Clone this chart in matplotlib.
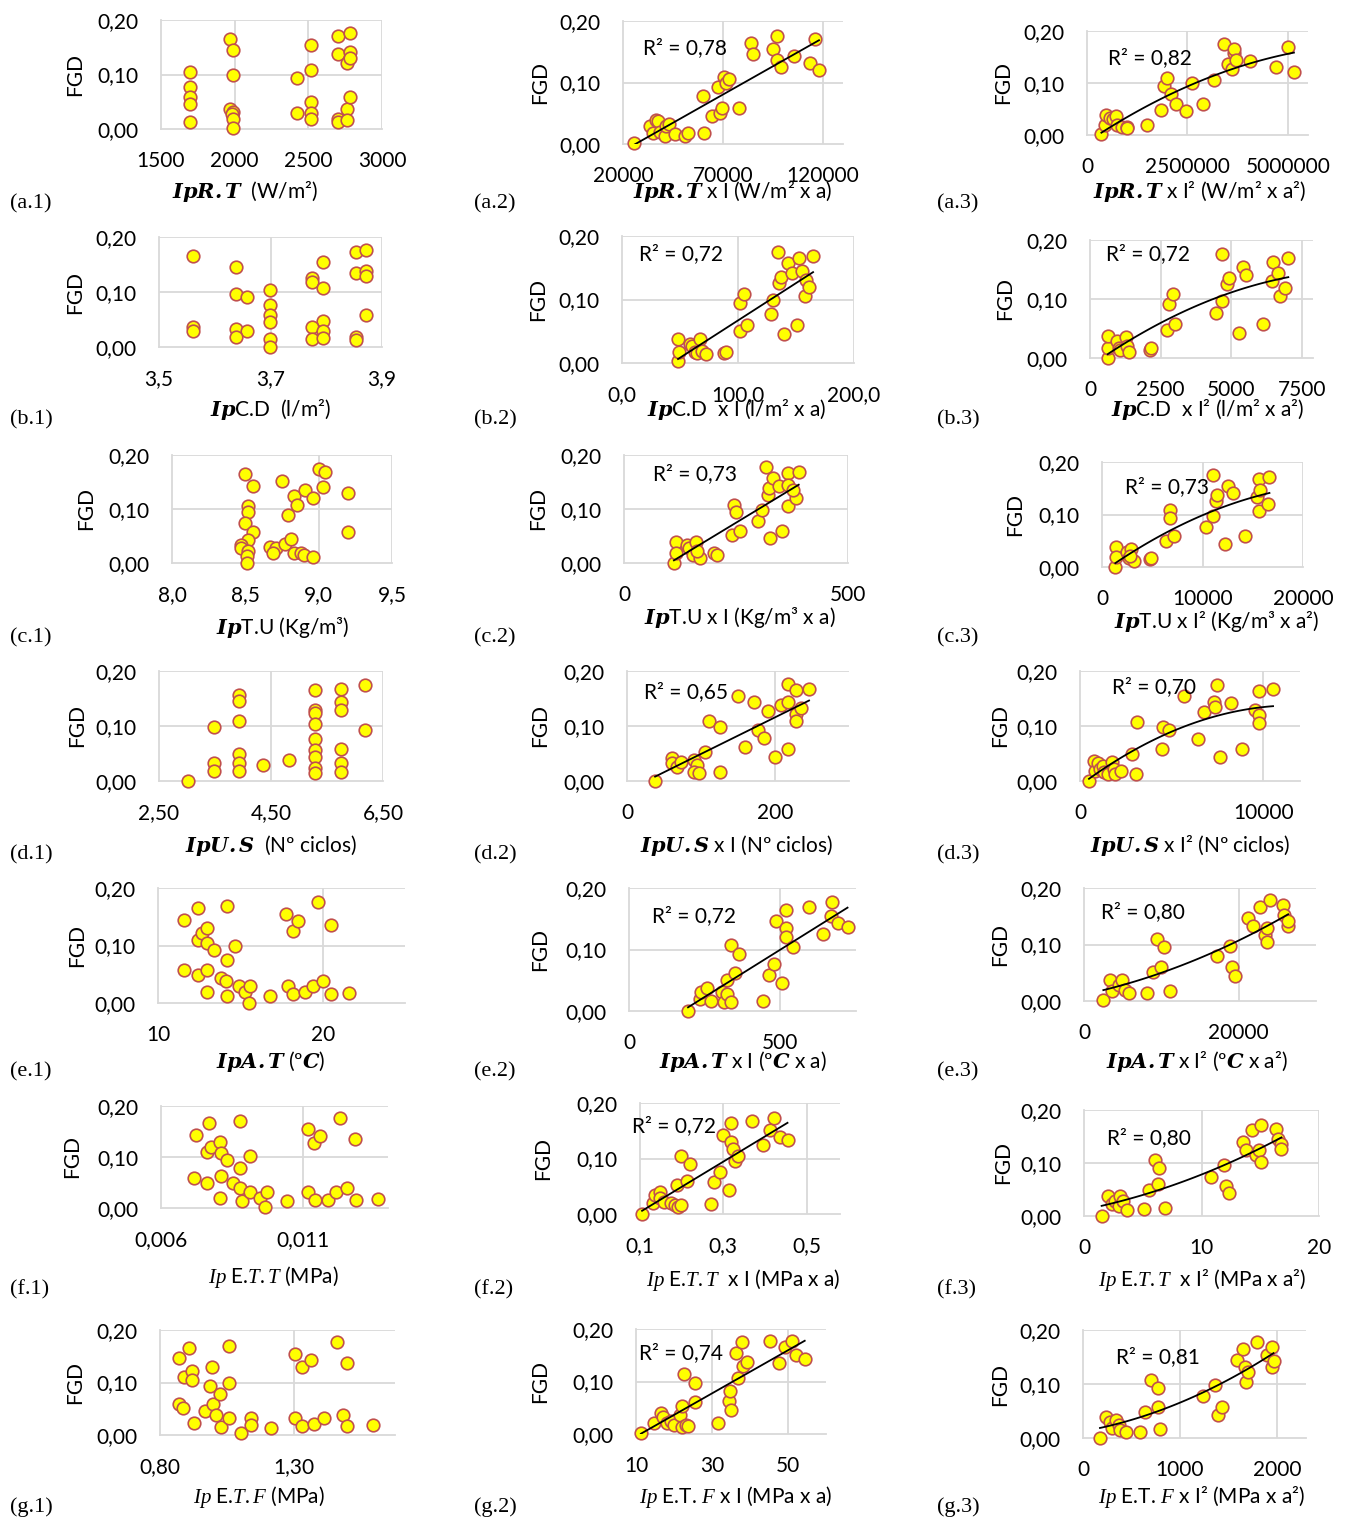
import matplotlib
matplotlib.use('Agg')
import matplotlib.pyplot as plt
import numpy as np

plt.rcParams['font.family'] = ['Lato', 'DejaVu Sans']
plt.rcParams['mathtext.fontset'] = 'custom'
plt.rcParams['mathtext.rm'] = 'Lato'
plt.rcParams['mathtext.it'] = 'Liberation Serif:italic'
plt.rcParams['mathtext.bf'] = 'DejaVu Serif:bold'
plt.rcParams['mathtext.bfit'] = 'DejaVu Serif:italic:bold'

# ---- data (x, FGD) ----
x_a1 = [1700, 1700, 1700, 1700, 1700, 1965, 1990, 1990, 1965, 1990, 1980, 1990, 1990, 2420, 2420, 2520, 2520, 2520,
        2520, 2520, 2700, 2700, 2700, 2700, 2760, 2760, 2760, 2785, 2785, 2785, 2785]
y_a1 = [0.105, 0.077, 0.059, 0.045, 0.013, 0.166, 0.145, 0.099, 0.037, 0.031, 0.028, 0.018, 0.001, 0.093, 0.029, 0.155,
        0.109, 0.049, 0.030, 0.018, 0.171, 0.137, 0.018, 0.012, 0.121, 0.037, 0.017, 0.177, 0.142, 0.130, 0.059]

x_a2 = [25300, 33300, 35000, 36300, 37500, 38300, 40800, 41700, 43000, 45800, 51200, 52500, 59800, 60500, 64500, 67500,
        68300, 69700, 70300, 71700, 73000, 78000, 84200, 85000, 95000, 97000, 97000, 99000, 105500, 113300, 115800, 118000]
y_a2 = [0.002, 0.029, 0.018, 0.039, 0.038, 0.020, 0.013, 0.029, 0.032, 0.017, 0.013, 0.018, 0.078, 0.018, 0.046, 0.093,
        0.051, 0.059, 0.109, 0.099, 0.105, 0.059, 0.165, 0.146, 0.155, 0.176, 0.136, 0.126, 0.143, 0.131, 0.170, 0.120]

x_a3 = [358e3, 458e3, 483e3, 567e3, 650e3, 733e3, 750e3, 875e3, 1000e3, 1000e3, 1483e3, 1850e3, 1917e3, 2000e3, 2100e3,
        2208e3, 2475e3, 2608e3, 2883e3, 3167e3, 3400e3, 3517e3, 3608e3, 3650e3, 3667e3, 3708e3, 4050e3, 4708e3, 5000e3,
        5150e3]
y_a3 = [0.001, 0.019, 0.038, 0.032, 0.030, 0.036, 0.019, 0.015, 0.016, 0.013, 0.019, 0.049, 0.094, 0.110, 0.078, 0.059,
        0.046, 0.100, 0.059, 0.105, 0.175, 0.137, 0.126, 0.157, 0.165, 0.145, 0.142, 0.131, 0.169, 0.121]

x_b1 = [3.561, 3.561, 3.561, 3.639, 3.639, 3.658, 3.639, 3.658, 3.639, 3.699, 3.699, 3.699, 3.699, 3.699, 3.699, 3.775,
        3.775, 3.795, 3.795, 3.795, 3.775, 3.795, 3.775, 3.795, 3.853, 3.853, 3.853, 3.853, 3.872, 3.872, 3.872, 3.872]
y_b1 = [0.165, 0.036, 0.030, 0.145, 0.097, 0.091, 0.032, 0.029, 0.018, 0.104, 0.077, 0.059, 0.045, 0.015, 0.000, 0.126,
        0.118, 0.154, 0.108, 0.048, 0.036, 0.030, 0.015, 0.017, 0.173, 0.135, 0.018, 0.012, 0.176, 0.139, 0.129, 0.058]

x_b2 = [48.3, 48.9, 48.3, 58.3, 60.3, 62.6, 64.7, 67.0, 69.3, 72.7, 87.9, 89.9, 102, 102, 105, 107.8, 128.7, 130, 134.5,
        135.3, 137.4, 139.7, 143, 146.6, 150.9, 152.3, 155.2, 158.9, 157.5, 161.2, 164.7]
y_b2 = [0.003, 0.018, 0.038, 0.030, 0.027, 0.018, 0.016, 0.038, 0.019, 0.014, 0.016, 0.018, 0.050, 0.094, 0.109, 0.060,
        0.077, 0.099, 0.175, 0.126, 0.135, 0.046, 0.157, 0.141, 0.060, 0.165, 0.145, 0.131, 0.106, 0.120, 0.169]

x_b3 = [626, 650, 650, 968, 1039, 1063, 1263, 1322, 1393, 2125, 2160, 2716, 2810, 2952, 3011, 4463, 4664, 4675, 4840,
        4935, 5289, 5407, 5525, 6139, 6434, 6494, 6671, 6730, 6907, 7025]
y_b3 = [0.000, 0.017, 0.037, 0.028, 0.017, 0.013, 0.035, 0.020, 0.011, 0.013, 0.017, 0.048, 0.092, 0.109, 0.058, 0.076,
        0.097, 0.176, 0.125, 0.135, 0.043, 0.154, 0.141, 0.057, 0.130, 0.163, 0.144, 0.105, 0.118, 0.169]

x_c1 = [8.50, 8.55, 8.52, 8.52, 8.50, 8.55, 8.52, 8.47, 8.47, 8.52, 8.51, 8.51, 8.75, 8.79, 8.83, 8.85, 8.91, 8.96, 9.00,
        9.04, 9.03, 9.20, 9.20, 8.67, 8.71, 8.69, 8.77, 8.81, 8.83, 8.88, 8.90, 8.96]
y_c1 = [0.165, 0.142, 0.105, 0.095, 0.075, 0.058, 0.042, 0.033, 0.027, 0.022, 0.013, 0.000, 0.151, 0.089, 0.125, 0.108,
        0.135, 0.120, 0.175, 0.169, 0.140, 0.129, 0.058, 0.030, 0.027, 0.018, 0.035, 0.045, 0.018, 0.018, 0.015, 0.012]

x_c2 = [111.5, 115, 115, 140, 144, 154, 160, 169, 163, 202, 208, 240, 246, 250, 260, 298, 308, 317, 321, 323, 327, 333,
        346, 352, 365, 365, 365, 385, 390, 377]
y_c2 = [0.0, 0.039, 0.018, 0.034, 0.028, 0.015, 0.039, 0.010, 0.022, 0.018, 0.015, 0.052, 0.108, 0.095, 0.059, 0.077,
        0.098, 0.178, 0.126, 0.138, 0.046, 0.157, 0.142, 0.059, 0.166, 0.145, 0.105, 0.120, 0.169, 0.135]

x_c3 = [1325, 1425, 1425, 2480, 2880, 2650, 3150, 2810, 4800, 4900, 6390, 6790, 6790, 7190, 10330, 11000, 11000, 11360,
        11420, 12190, 12580, 13010, 14240, 15400, 15630, 15730, 15660, 16560, 16660]
y_c3 = [0.0, 0.038, 0.019, 0.029, 0.035, 0.017, 0.011, 0.021, 0.015, 0.018, 0.049, 0.109, 0.094, 0.059, 0.076, 0.098,
        0.176, 0.126, 0.137, 0.044, 0.155, 0.141, 0.059, 0.133, 0.167, 0.147, 0.106, 0.120, 0.171]

x_d1 = [3.02, 3.48, 3.48, 3.48, 3.93, 3.93, 3.93, 3.93, 3.93, 3.93, 4.36, 4.82, 5.28, 5.28, 5.28, 5.28, 5.28, 5.28, 5.28,
        5.28, 5.28, 5.75, 5.75, 5.75, 5.75, 5.75, 5.75, 6.18, 6.18]
y_d1 = [0.0, 0.098, 0.033, 0.019, 0.156, 0.145, 0.109, 0.050, 0.032, 0.019, 0.029, 0.038, 0.165, 0.129, 0.123, 0.104,
        0.077, 0.057, 0.043, 0.023, 0.014, 0.168, 0.144, 0.130, 0.059, 0.032, 0.017, 0.175, 0.092]

x_d2 = [38, 61, 61, 68, 73, 91, 95, 91, 97, 106, 111, 126, 126, 150, 159, 171, 177, 185, 191, 200, 208, 217, 217, 217,
        228, 228, 228, 235, 246]
y_d2 = [0.0, 0.041, 0.032, 0.026, 0.035, 0.038, 0.029, 0.017, 0.014, 0.053, 0.109, 0.098, 0.016, 0.154, 0.062, 0.144,
        0.093, 0.078, 0.127, 0.044, 0.139, 0.177, 0.144, 0.059, 0.166, 0.121, 0.109, 0.132, 0.168]

x_d3 = [490, 765, 820, 985, 1110, 1240, 1310, 1550, 1750, 1840, 1890, 2240, 2840, 3100, 3060, 4460, 4520, 4830, 5680,
        6410, 6780, 7290, 7380, 7470, 7610, 8230, 8830, 9520, 9740, 9740, 9740, 10530]
y_d3 = [0.0, 0.036, 0.018, 0.032, 0.022, 0.028, 0.016, 0.013, 0.034, 0.022, 0.012, 0.018, 0.049, 0.108, 0.013, 0.059,
        0.098, 0.092, 0.154, 0.077, 0.126, 0.144, 0.135, 0.175, 0.044, 0.141, 0.059, 0.130, 0.120, 0.105, 0.164, 0.168]

x_e1 = [11.6, 12.4, 12.4, 12.7, 13.0, 13.0, 13.4, 14.2, 14.2, 14.7, 11.6, 12.4, 13.0, 13.0, 13.8, 14.1, 14.2, 14.9, 15.3,
        15.5, 15.6, 16.8, 17.8, 18.2, 18.5, 17.9, 18.2, 18.9, 19.4, 19.7, 20.0, 20.5, 20.5, 21.6]
y_e1 = [0.145, 0.165, 0.110, 0.122, 0.130, 0.104, 0.093, 0.169, 0.075, 0.099, 0.058, 0.049, 0.058, 0.020, 0.043, 0.038,
        0.013, 0.029, 0.019, 0.0, 0.029, 0.012, 0.155, 0.126, 0.142, 0.029, 0.016, 0.019, 0.029, 0.175, 0.038, 0.136,
        0.015, 0.017]

x_e2 = [195, 235, 238, 258, 272, 308, 315, 324, 324, 338, 338, 351, 364, 444, 464, 480, 487, 506, 520, 520, 520, 543,
        596, 642, 666, 672, 692, 722]
y_e2 = [0.0, 0.020, 0.031, 0.038, 0.017, 0.031, 0.015, 0.050, 0.028, 0.015, 0.108, 0.061, 0.092, 0.017, 0.058, 0.077,
        0.146, 0.045, 0.135, 0.121, 0.165, 0.104, 0.169, 0.126, 0.155, 0.178, 0.143, 0.136]

x_e3 = [2500, 3400, 3600, 4500, 4900, 5300, 5800, 8100, 8900, 9500, 10300, 10000, 11100, 17200, 18900, 19200, 19500,
        21200, 21900, 22700, 23400, 23600, 23600, 24000, 25700, 25800, 26400, 26400]
y_e3 = [0.002, 0.037, 0.017, 0.028, 0.037, 0.020, 0.014, 0.014, 0.051, 0.110, 0.095, 0.061, 0.018, 0.079, 0.098, 0.061,
        0.045, 0.147, 0.132, 0.167, 0.117, 0.105, 0.129, 0.179, 0.170, 0.153, 0.132, 0.142]

x_f1 = [0.00716, 0.00725, 0.00762, 0.00762, 0.00768, 0.00776, 0.00807, 0.00807, 0.00810, 0.00810, 0.00831, 0.00853,
        0.00877, 0.00877, 0.00877, 0.00884, 0.00913, 0.00913, 0.00949, 0.00968, 0.00973, 0.01044, 0.01117, 0.01117,
        0.01138, 0.01142, 0.01162, 0.01187, 0.01217, 0.01232, 0.01256, 0.01283, 0.01287, 0.01363]
y_f1 = [0.058, 0.144, 0.049, 0.110, 0.166, 0.120, 0.130, 0.019, 0.107, 0.062, 0.094, 0.049, 0.170, 0.078, 0.039, 0.014,
        0.101, 0.031, 0.019, 0.001, 0.031, 0.013, 0.155, 0.032, 0.127, 0.016, 0.142, 0.016, 0.031, 0.177, 0.040, 0.136,
        0.016, 0.018]

x_f2 = [0.105, 0.132, 0.137, 0.147, 0.147, 0.158, 0.175, 0.184, 0.188, 0.192, 0.199, 0.199, 0.213, 0.220, 0.271, 0.278,
        0.293, 0.298, 0.313, 0.319, 0.319, 0.324, 0.328, 0.334, 0.369, 0.396, 0.413, 0.421, 0.437, 0.454]
y_f2 = [0.0, 0.020, 0.035, 0.040, 0.029, 0.022, 0.020, 0.016, 0.053, 0.012, 0.105, 0.017, 0.060, 0.090, 0.018, 0.058,
        0.076, 0.143, 0.044, 0.164, 0.130, 0.118, 0.096, 0.105, 0.167, 0.124, 0.152, 0.173, 0.139, 0.134]

x_f3 = [1.5, 2.0, 2.4, 2.6, 3.0, 3.1, 3.3, 3.7, 5.1, 5.5, 6.0, 6.4, 6.3, 6.9, 10.8, 11.9, 12.1, 12.3, 13.5, 13.8, 14.3,
        14.6, 14.9, 15.1, 15.1, 16.3, 16.5, 16.8, 16.8]
y_f3 = [0.0, 0.038, 0.022, 0.028, 0.019, 0.037, 0.028, 0.011, 0.013, 0.049, 0.106, 0.091, 0.060, 0.016, 0.074, 0.096,
        0.057, 0.043, 0.140, 0.125, 0.162, 0.116, 0.125, 0.102, 0.172, 0.165, 0.146, 0.135, 0.127]

x_g1 = [0.871, 0.871, 0.887, 0.890, 0.907, 0.918, 0.918, 0.929, 0.967, 0.993, 0.987, 1.000, 1.010, 1.026, 1.029, 1.058,
        1.058, 1.058, 1.105, 1.139, 1.139, 1.214, 1.304, 1.304, 1.333, 1.333, 1.364, 1.375, 1.413, 1.461, 1.487, 1.500,
        1.500, 1.597]
y_g1 = [0.146, 0.060, 0.051, 0.111, 0.166, 0.121, 0.105, 0.022, 0.046, 0.130, 0.094, 0.060, 0.038, 0.078, 0.016, 0.170,
        0.100, 0.032, 0.003, 0.032, 0.020, 0.013, 0.154, 0.033, 0.129, 0.018, 0.143, 0.021, 0.032, 0.178, 0.039, 0.138,
        0.018, 0.019]

x_g2 = [11.3, 14.7, 16.5, 17.0, 18.1, 19.2, 20.0, 21.6, 22.0, 22.2, 22.6, 23.1, 23.8, 25.6, 25.6, 31.7, 34.5, 34.7,
        35.1, 36.3, 36.9, 37.8, 38.1, 39.2, 45.3, 47.6, 49.2, 51.0, 52.1, 54.4]
y_g2 = [0.002, 0.021, 0.040, 0.032, 0.021, 0.025, 0.018, 0.037, 0.054, 0.014, 0.114, 0.018, 0.016, 0.061, 0.098, 0.021,
        0.062, 0.082, 0.046, 0.154, 0.106, 0.176, 0.129, 0.138, 0.177, 0.135, 0.165, 0.178, 0.150, 0.143]

x_g3 = [175, 235, 280, 300, 340, 370, 385, 440, 590, 635, 700, 770, 770, 795, 1240, 1360, 1390, 1430, 1590, 1655, 1670,
        1680, 1700, 1790, 1900, 1950, 1950, 1965]
y_g3 = [0.0, 0.038, 0.030, 0.018, 0.034, 0.025, 0.015, 0.011, 0.012, 0.049, 0.108, 0.092, 0.058, 0.017, 0.077, 0.098,
        0.043, 0.058, 0.145, 0.165, 0.132, 0.103, 0.123, 0.177, 0.154, 0.169, 0.132, 0.142]

y_ticks = [0.0, 0.1, 0.2]
y_ticklabels = ['0,00', '0,10', '0,20']
r2_labels = {'a2': '0,78', 'a3': '0,82', 'b2': '0,72', 'b3': '0,72', 'c2': '0,73', 'c3': '0,73', 'd2': '0,65',
             'd3': '0,70', 'e2': '0,72', 'e3': '0,80', 'f2': '0,72', 'f3': '0,80', 'g2': '0,74', 'g3': '0,81'}

W, H = 1349, 1519
fig = plt.figure(figsize=(W / 100, H / 100), dpi=100)

# key: (x, y, box L R T B px, xlim, xticks, xticklabels, vertical grid, xlabel, xlabel center px, fgd x px)
panels = {
    'a1': (x_a1, y_a1, (161, 382, 20, 129), (1500, 3000), [1500, 2000, 2500, 3000], ['1500', '2000', '2500', '3000'],
           [2000, 2500, 3000], r'$\mathbfit{IpR.T}$  (W/m²)', (245, 192), 75),
    'a2': (x_a2, y_a2, (623, 843, 21, 144), (20000, 130000), [20000, 70000, 120000], ['20000', '70000', '120000'],
           [70000, 120000], r'$\mathbfit{IpR.T}$ x I (W/m² x a)', (733, 192), 540),
    'a3': (x_a3, y_a3, (1087, 1308, 31, 135), (0, 5.5e6), [0, 2.5e6, 5e6], ['0', '2500000', '5000000'],
           [2.5e6, 5e6], r'$\mathbfit{IpR.T}$ x I² (W/m² x a²)', (1200, 192), 1003),
    'b1': (x_b1, y_b1, (159, 382, 237, 347), (3.5, 3.9), [3.5, 3.7, 3.9], ['3,5', '3,7', '3,9'],
           [3.7, 3.9], r'$\mathbfit{Ip}$C.D  (l/m²)', (270, 410), 75),
    'b2': (x_b2, y_b2, (622, 854, 236, 363), (0, 200), [0, 100, 200], ['0,0', '100,0', '200,0'],
           [100, 200], r'$\mathbfit{Ip}$C.D  x I (l/m² x a)', (737, 410), 538),
    'b3': (x_b3, y_b3, (1090, 1313, 240, 358), (0, 7900), [0, 2500, 5000, 7500], ['0', '2500', '5000', '7500'],
           [2500, 5000, 7500], r'$\mathbfit{Ip}$C.D  x I² (l/m² x a²)', (1208, 410), 1005),
    'c1': (x_c1, y_c1, (172, 392, 455, 563), (8.0, 9.5), [8.0, 8.5, 9.0, 9.5], ['8,0', '8,5', '9,0', '9,5'],
           [9.0, 9.5], r'$\mathbfit{Ip}$T.U (Kg/m³)', (283, 628), 86),
    'c2': (x_c2, y_c2, (624, 848, 455, 563), (0, 500), [0, 500], ['0', '500'],
           [500], r'$\mathbfit{Ip}$T.U x I (Kg/m³ x a)', (740, 617), 538),
    'c3': (x_c3, y_c3, (1102, 1303, 462, 567), (0, 20000), [0, 10000, 20000], ['0', '10000', '20000'],
           [10000, 20000], r'$\mathbfit{Ip}$T.U x I² (Kg/m³ x a²)', (1217, 621), 1015),
    'd1': (x_d1, y_d1, (159, 383, 671, 781), (2.5, 6.5), [2.5, 4.5, 6.5], ['2,50', '4,50', '6,50'],
           [4.5, 6.5], r'$\mathbfit{IpU.S}$  (Nº ciclos)', (271, 845), 77),
    'd2': (x_d2, y_d2, (627, 849, 671, 781), (0, 300), [0, 200], ['0', '200'],
           [200], r'$\mathbfit{IpU.S}$ x I (Nº ciclos)', (737, 845), 540),
    'd3': (x_d3, y_d3, (1080, 1300, 671, 781), (0, 12000), [0, 10000], ['0', '10000'],
           [10000], r'$\mathbfit{IpU.S}$ x I² (Nº ciclos)', (1190, 845), 1000),
    'e1': (x_e1, y_e1, (158, 405, 888, 1003), (10, 25), [10, 20], ['10', '20'],
           [20], r'$\mathbfit{IpA.T}$ (º$\mathbfit{C}$)', (271, 1062), 77),
    'e2': (x_e2, y_e2, (629, 856, 888, 1011), (0, 750), [0, 500], ['0', '500'],
           [500], r'$\mathbfit{IpA.T}$ x I (º$\mathbfit{C}$ x a)', (743, 1062), 540),
    'e3': (x_e3, y_e3, (1084, 1316, 888, 1001), (0, 30000), [0, 20000], ['0', '20000'],
           [20000], r'$\mathbfit{IpA.T}$ x I² (º$\mathbfit{C}$ x a²)', (1197, 1062), 1000),
    'f1': (x_f1, y_f1, (161, 388, 1106, 1208), (0.006, 0.014), [0.006, 0.011], ['0,006', '0,011'],
           [0.011], r'$\mathit{Ip}$ E.$\mathit{T.T}$ (MPa)', (273, 1277), 72),
    'f2': (x_f2, y_f2, (640, 840, 1103, 1214), (0.1, 0.58), [0.1, 0.3, 0.5], ['0,1', '0,3', '0,5'],
           [0.3, 0.5], r'$\mathit{Ip}$ E.$\mathit{T.T}$  x I (MPa x a)', (743, 1280), 543),
    'f3': (x_f3, y_f3, (1084, 1319, 1110, 1216), (0, 20), [0, 10, 20], ['0', '10', '20'],
           [10, 20], r'$\mathit{Ip}$ E.$\mathit{T.T}$  x I² (MPa x a²)', (1202, 1280), 1003),
    'g1': (x_g1, y_g1, (160, 395, 1330, 1435), (0.8, 1.68), [0.8, 1.3], ['0,80', '1,30'],
           [1.3], r'$\mathit{Ip}$ E.$\mathit{T.F}$ (MPa)', (259, 1497), 75),
    'g2': (x_g2, y_g2, (636, 826, 1329, 1434), (10, 60), [10, 30, 50], ['10', '30', '50'],
           [30, 50], r'$\mathit{Ip}$ E.T. $\mathit{F}$ x I (MPa x a)', (736, 1497), 540),
    'g3': (x_g3, y_g3, (1083, 1306, 1330, 1438), (0, 2300), [0, 1000, 2000], ['0', '1000', '2000'],
           [1000, 2000], r'$\mathit{Ip}$ E.T. $\mathit{F}$ x I² (MPa x a²)', (1202, 1497), 1000),
}

r2_pos = {'a2': (643, 48), 'a3': (1108, 58), 'b2': (639, 254), 'b3': (1106, 254), 'c2': (653, 474),
          'c3': (1125, 487), 'd2': (644, 692), 'd3': (1112, 687), 'e2': (652, 916), 'e3': (1101, 912),
          'f2': (632, 1126), 'f3': (1107, 1138), 'g2': (639, 1353), 'g3': (1116, 1357)}
tag_x = {'1': 10, '2': 474, '3': 937}
tag_y = {'a': 204, 'b': 420, 'c': 638, 'd': 855, 'e': 1072, 'f': 1290, 'g': 1507}

grid_c = '#D9D9D9'
fs = 15

for key, (xs, ys, box, xlim, xt, xtl, vgrid, xlabel, xlab_pos, fgd_x) in panels.items():
    L, R, T, B = box
    ax = fig.add_axes([L / W, 1 - B / H, (R - L) / W, (B - T) / H])
    ax.set_facecolor('none')
    ax.set_xlim(*xlim)
    ax.set_ylim(0, 0.2)
    for g in [0.1, 0.2]:
        ax.axhline(g, color=grid_c, lw=1.3, zorder=0)
    for g in vgrid:
        ax.axvline(g, color=grid_c, lw=1.3, zorder=0)
    for s in ['top', 'right']:
        ax.spines[s].set_visible(False)
    for s in ['left', 'bottom']:
        ax.spines[s].set_color(grid_c)
        ax.spines[s].set_linewidth(1.3)
    ax.set_xticks(xt)
    ax.set_xticklabels(xtl)
    ax.set_yticks(y_ticks)
    ax.set_yticklabels(y_ticklabels)
    ax.tick_params(length=0, labelsize=fs, pad=16)

    ax.scatter(xs, ys, s=82, facecolor='#FFFF00', edgecolor='#C0504D', linewidths=1.2, zorder=3, clip_on=False)

    if key[1] != '1':
        deg = 1 if key[1] == '2' else 2
        coef = np.polyfit(xs, ys, deg)
        xx = np.linspace(min(xs), max(xs), 100)
        ax.plot(xx, np.polyval(coef, xx), color='black', lw=1.3, zorder=4)
        rx, ry = r2_pos[key]
        fig.text(rx / W, 1 - ry / H, 'R² = ' + r2_labels[key], fontsize=fs, ha='left', va='center')

    fig.text(xlab_pos[0] / W, 1 - xlab_pos[1] / H, xlabel, fontsize=fs, ha='center', va='center')
    fig.text(fgd_x / W, 1 - ((T + B) / 2) / H, 'FGD', fontsize=fs, rotation=90, ha='center', va='center')
    fig.text(tag_x[key[1]] / W, 1 - tag_y[key[0]] / H, '(%s.%s)' % (key[0], key[1]),
             fontsize=16, family='Liberation Serif', ha='left', va='center')

fig.savefig('out.png', dpi=100)
